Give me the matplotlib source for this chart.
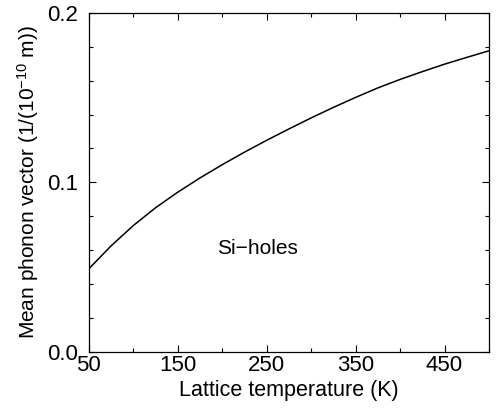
import matplotlib
matplotlib.use("Agg")
import matplotlib.pyplot as plt
from matplotlib.ticker import MultipleLocator

# === Data ===
temperature = [50, 75, 100, 125, 150, 175, 200, 225, 250, 275, 300,
               325, 350, 375, 400, 425, 450, 475, 500]
phonon_vector = [0.049, 0.0625, 0.0745, 0.0850, 0.0942, 0.1026, 0.1104,
                 0.1178, 0.1248, 0.1315, 0.1380, 0.1442, 0.1501, 0.1557,
                 0.1607, 0.1653, 0.1697, 0.1737, 0.1776]
x_ticks = [50, 150, 250, 350, 450]
y_ticks = [0.0, 0.1, 0.2]

plt.rcParams["font.family"] = ["Liberation Sans", "DejaVu Sans"]
plt.rcParams["mathtext.fontset"] = "custom"
plt.rcParams["mathtext.rm"] = "Liberation Sans"
plt.rcParams["mathtext.it"] = "Liberation Sans:italic"

fig = plt.figure(figsize=(4.99, 4.13), dpi=100)
ax = fig.add_axes([0.178, 0.148, 0.802, 0.821])

ax.plot(temperature, phonon_vector, color="black", lw=1.1)

ax.set_xlim(50, 500)
ax.set_ylim(0, 0.2)
ax.set_xticks(x_ticks)
ax.set_yticks(y_ticks)
ax.set_yticklabels([f"{v:.1f}" for v in y_ticks])
ax.xaxis.set_minor_locator(MultipleLocator(50))
ax.yaxis.set_minor_locator(MultipleLocator(0.02))
ax.tick_params(which="both", direction="in", top=True, right=True,
               labelsize=16, width=0.8)
ax.tick_params(which="major", length=5)
ax.tick_params(which="minor", length=3)
ax.tick_params(axis="y", pad=8)
ax.tick_params(axis="x", pad=2)
for s in ax.spines.values():
    s.set_linewidth(0.9)

ax.set_xlabel("Lattice temperature (K)", fontsize=15.5, labelpad=3)
ax.set_ylabel(r"Mean phonon vector (1/(10$^{\mathrm{-10}}$ m))", fontsize=15, labelpad=4)

ax.text(194, 0.061, "Si\u2212holes", fontsize=15, va="center", ha="left")

plt.savefig("out.png", dpi=100)
